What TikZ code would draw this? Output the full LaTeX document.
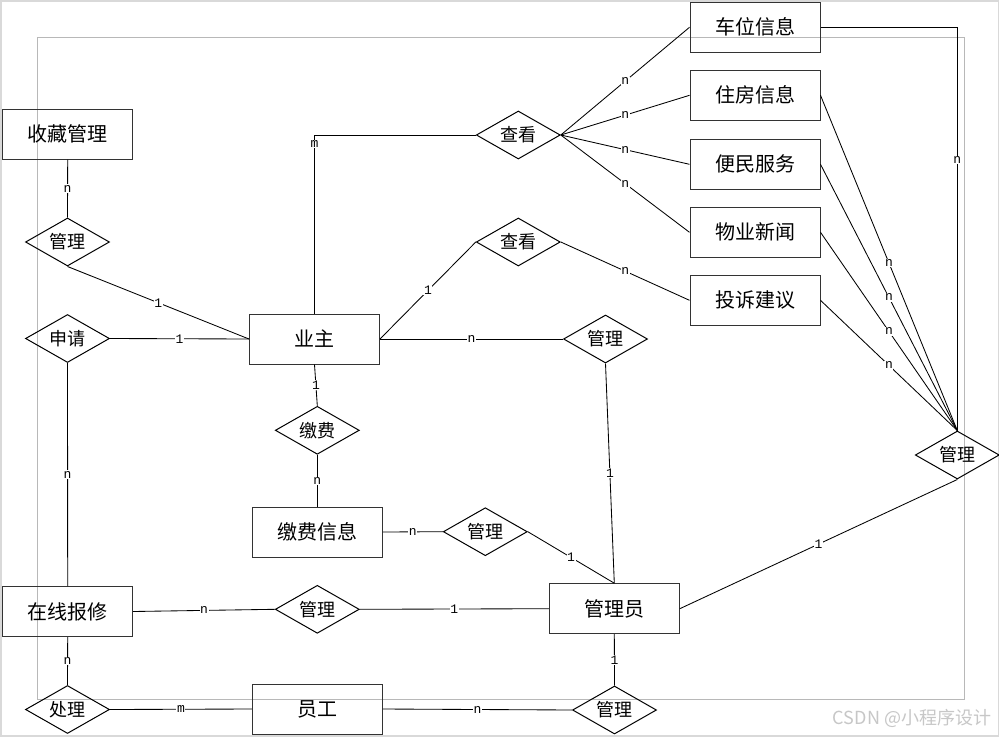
\documentclass[tikz,border=0pt]{standalone}
\usepackage{fontspec}
\setmainfont{Noto Sans CJK SC}
\newfontfamily\labfont{Liberation Mono}
\usetikzlibrary{shapes.geometric}
\tikzset{
 ent/.style={draw=black!80, line width=1pt, rectangle, minimum width=130pt, minimum height=50pt, inner sep=0pt, font=\fontsize{20}{24}\selectfont},
 rel/.style={draw=black, line width=1pt, diamond, aspect=1.75, inner sep=0pt, minimum width=84pt, minimum height=48pt, font=\fontsize{18}{22}\selectfont},
 conn/.style={draw=black, line width=0.85pt},
 lab/.style={fill=white, inner sep=0.6pt, font=\labfont\fontsize{13}{14}\selectfont},
}
\begin{document}
\begin{tikzpicture}[x=1pt,y=-1pt]
\useasboundingbox (0,0) rectangle (999,737);
\fill[white] (0,0) rectangle (999,737);
\draw[black!15, line width=1.5pt] (0.75,0.75) rectangle (998.25,736);
\draw[black!28, line width=0.8pt] (37.5,37.5) rectangle (964,699);
% entities
\node[ent] (scgl) at (67.7,134) {收藏管理};
\node[ent] (yz) at (314.5,339) {业主};
\node[ent] (jfxx) at (317.3,532) {缴费信息};
\node[ent] (zx) at (67.7,611.5) {在线报修};
\node[ent] (yg) at (317.3,709) {员工};
\node[ent] (gly) at (614.3,608.7) {管理员};
\node[ent] (cw) at (755,27.3) {车位信息};
\node[ent] (zf) at (755,95.3) {住房信息};
\node[ent] (bm) at (755,164.3) {便民服务};
\node[ent] (wy) at (755,232.3) {物业新闻};
\node[ent] (ts) at (755,300.3) {投诉建议};
% relations
\node[rel] (gl1) at (67.5,242) {管理};
\node[rel] (sq) at (67.5,338.5) {申请};
\node[rel] (ck1) at (518.3,135) {查看};
\node[rel] (ck2) at (518.3,242) {查看};
\node[rel] (gl2) at (605.5,339) {管理};
\node[rel] (jf) at (317.3,430.3) {缴费};
\node[rel] (gl3) at (485.3,531.7) {管理};
\node[rel] (gl4) at (317.3,609.3) {管理};
\node[rel] (cl) at (67.5,709.5) {处理};
\node[rel] (gl6) at (614.5,710) {管理};
\node[rel] (gl5) at (957.3,455) {管理};
% connectors
\path[conn] (scgl.south) -- node[lab]{n} (gl1.north);
\path[conn] (gl1.south) -- node[lab]{1} (yz.west);
\path[conn] (sq.east) -- node[lab]{1} (yz.west);
\path[conn] (yz.north) |- node[lab,pos=0.475]{m} (ck1.west);
\path[conn] (yz.east) -- node[lab]{1} (ck2.west);
\path[conn] (yz.east) -- node[lab]{n} (gl2.west);
\path[conn] (ck1.east) -- node[lab]{n} (cw.west);
\path[conn] (ck1.east) -- node[lab]{n} (zf.west);
\path[conn] (ck1.east) -- node[lab]{n} (bm.west);
\path[conn] (ck1.east) -- node[lab]{n} (wy.west);
\path[conn] (ck2.east) -- node[lab]{n} (ts.west);
\path[conn] (cw.east) -| node[lab,pos=0.665]{n} (gl5.north);
\path[conn] (zf.east) -- node[lab]{n} (gl5.north);
\path[conn] (bm.east) -- node[lab]{n} (gl5.north);
\path[conn] (wy.east) -- node[lab]{n} (gl5.north);
\path[conn] (ts.east) -- node[lab]{n} (gl5.north);
\path[conn] (gl2.south) -- node[lab]{1} (gly.north);
\path[conn] (yz.south) -- node[lab]{1} (jf.north);
\path[conn] (jf.south) -- node[lab]{n} (jfxx.north);
\path[conn] (jfxx.east) -- node[lab]{n} (gl3.west);
\path[conn] (gl3.east) -- node[lab]{1} (gly.north);
\path[conn] (sq.south) -- node[lab]{n} (zx.north);
\path[conn] (zx.east) -- node[lab]{n} (gl4.west);
\path[conn] (gl4.east) -- node[lab]{1} (gly.west);
\path[conn] (zx.south) -- node[lab]{n} (cl.north);
\path[conn] (cl.east) -- node[lab]{m} (yg.west);
\path[conn] (yg.east) -- node[lab]{n} (gl6.west);
\path[conn] (gly.south) -- node[lab]{1} (gl6.north);
\path[conn] (gly.east) -- node[lab]{1} (gl5.south);
% watermark
\node[text=black!22, font=\fontsize{18}{20}\selectfont, inner sep=0pt] (wm) at (912,718) {CSDN @小程序设计};
\end{tikzpicture}
\end{document}
